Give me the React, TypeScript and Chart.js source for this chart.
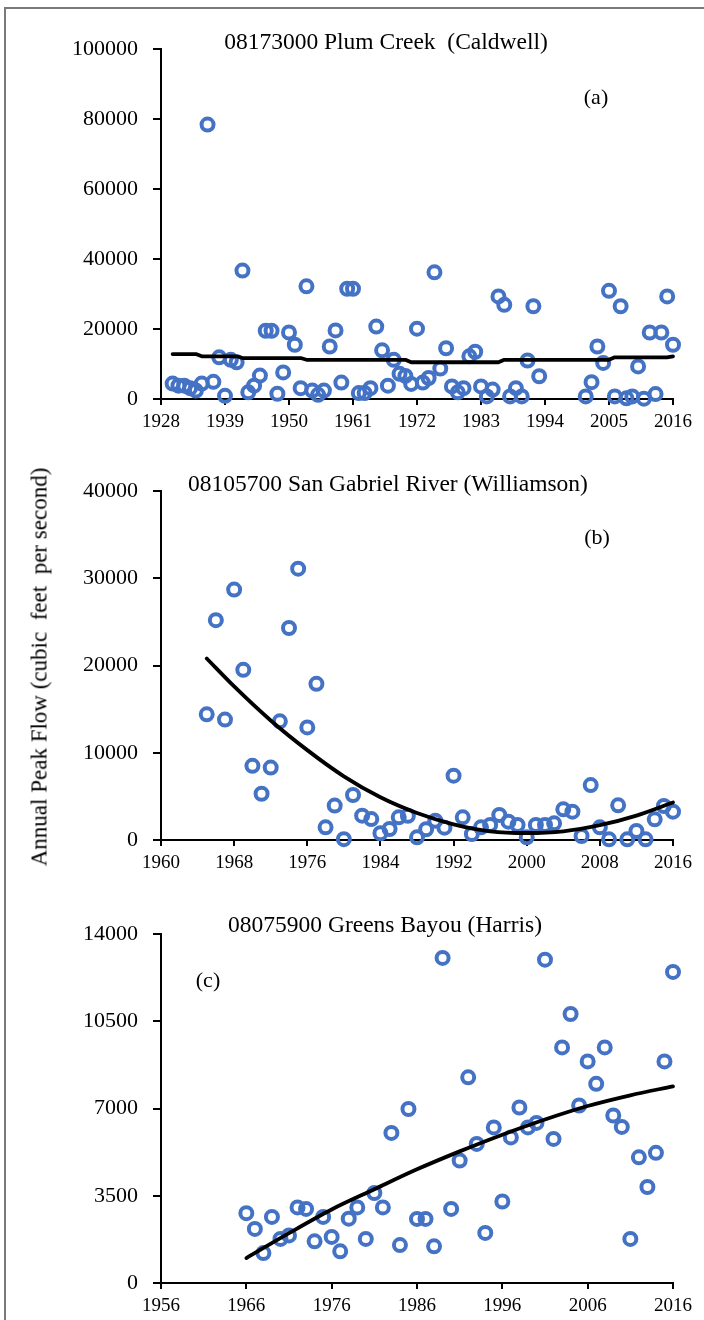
import React, { useEffect, useRef } from "react";
import { Chart, registerables } from "chart.js";

Chart.register(...registerables);

const FONT = '"Liberation Serif", "Times New Roman", serif';

// ---------- (a) 08173000 Plum Creek (Caldwell) ----------
const yearsA = [
  1930, 1931, 1932, 1933, 1934, 1935, 1936, 1937, 1938, 1939, 1940, 1941, 1942, 1943, 1944, 1945,
  1946, 1947, 1948, 1949, 1950, 1951, 1952, 1953, 1954, 1955, 1956, 1957, 1958, 1959, 1960, 1961,
  1962, 1963, 1964, 1965, 1966, 1967, 1968, 1969, 1970, 1971, 1972, 1973, 1974, 1975, 1976, 1977,
  1978, 1979, 1980, 1981, 1982, 1983, 1984, 1985, 1986, 1987, 1988, 1989, 1990, 1991, 1992, 1993,
  2001, 2002, 2003, 2004, 2005, 2006, 2007, 2008, 2009, 2010, 2011, 2012, 2013, 2014, 2015, 2016,
];
const peaksA = [
  4400, 3800, 3800, 3100, 2400, 4400, 78400, 4900, 11900, 900, 11200, 10500, 36700, 1900, 3800, 6700,
  19500, 19500, 1500, 7600, 19000, 15500, 3100, 32200, 2400, 1200, 2400, 15000, 19600, 4700, 31500, 31500,
  1700, 1700, 3100, 20700, 13900, 3800, 11200, 7200, 6600, 4300, 20100, 4700, 6000, 36200, 8700, 14500,
  3600, 1900, 3100, 12200, 13500, 3600, 750, 2700, 29300, 26900, 750, 3100, 750, 11000, 26500, 6500,
  750, 4800, 15000, 10300, 30900, 750, 26500, 200, 750, 9300, 100, 19000, 1400, 19000, 29300, 15500,
];
const trendYearsA = [1930, 1934, 1935, 1941, 1942, 1952, 1953, 1970, 1971, 1986, 1987, 2005, 2006, 2015, 2016];
const trendA = [12850, 12850, 12200, 12200, 11700, 11700, 11200, 11200, 10500, 10500, 11200, 11200, 11900, 11900, 12200];
const xTicksA = { min: 1928, max: 2016, step: 11 };
const yTicksA = { min: 0, max: 100000, step: 20000 };

// ---------- (b) 08105700 San Gabriel River (Williamson) ----------
const yearsB = [
  1965, 1966, 1967, 1968, 1969, 1970, 1971, 1972, 1973, 1974, 1975, 1976, 1977, 1978, 1979, 1980,
  1981, 1982, 1983, 1984, 1985, 1986, 1987, 1988, 1989, 1990, 1991, 1992, 1993, 1994, 1995, 1996,
  1997, 1998, 1999, 2000, 2001, 2002, 2003, 2004, 2005, 2006, 2007, 2008, 2009, 2010, 2011, 2012,
  2013, 2014, 2015, 2016,
];
const peaksB = [
  14400, 25200, 13800, 28700, 19500, 8500, 5300, 8300, 13600, 24300, 31100, 12900, 17900, 1450, 3940, 100,
  5160, 2790, 2400, 770, 1260, 2600, 2770, 310, 1230, 2210, 1410, 7370, 2600, 690, 1450, 1720,
  2870, 2100, 1720, 310, 1720, 1720, 1910, 3520, 3250, 460, 6300, 1450, 80, 3970, 80, 1030,
  80, 2370, 3900, 3250,
];
const trendYearsB = [1965, 1968, 1972, 1976, 1980, 1984, 1988, 1992, 1996, 2000, 2004, 2008, 2012, 2016];
const trendB = [20800, 17600, 13700, 10300, 7300, 4900, 3100, 1800, 1000, 800, 1000, 1700, 2800, 4300];
const xTicksB = { min: 1960, max: 2016, step: 8 };
const yTicksB = { min: 0, max: 40000, step: 10000 };

// ---------- (c) 08075900 Greens Bayou (Harris) ----------
const yearsC = [
  1966, 1967, 1968, 1969, 1970, 1971, 1972, 1973, 1974, 1975, 1976, 1977, 1978, 1979, 1980, 1981,
  1982, 1983, 1984, 1985, 1986, 1987, 1988, 1989, 1990, 1991, 1992, 1993, 1994, 1995, 1996, 1997,
  1998, 1999, 2000, 2001, 2002, 2003, 2004, 2005, 2006, 2007, 2008, 2009, 2010, 2011, 2012, 2013,
  2014, 2015, 2016,
];
const peaksC = [
  2800, 2170, 1200, 2650, 1770, 1910, 3030, 2970, 1670, 2650, 1850, 1270, 2580, 3030, 1770, 3610,
  3030, 6020, 1520, 6980, 2570, 2570, 1470, 13040, 2970, 4910, 8250, 5580, 2010, 6240, 3270, 5840,
  7040, 6240, 6420, 12970, 5780, 9450, 10790, 7120, 8890, 7990, 9450, 6720, 6260, 1770, 5040, 3850,
  5220, 8890, 12480,
];
const trendYearsC = [1966, 1971, 1976, 1981, 1986, 1991, 1996, 2001, 2006, 2011, 2016];
const trendC = [1000, 2000, 2950, 3760, 4560, 5280, 5950, 6560, 7100, 7530, 7890];
const xTicksC = { min: 1956, max: 2016, step: 10 };
const yTicksC = { min: 0, max: 14000, step: 3500 };

const titles = [
  "08173000 Plum Creek  (Caldwell)",
  "08105700 San Gabriel River (Williamson)",
  "08075900 Greens Bayou (Harris)",
];
const panelLabels = ["(a)", "(b)", "(c)"];
const yAxisTitle = "Annual Peak Flow (cubic  feet  per second)";

type PanelProps = {
  top: number;
  height: number;
  padTop: number;
  padBottom: number;
  years: number[];
  peaks: number[];
  trendYears: number[];
  trend: number[];
  smooth: boolean;
  xt: { min: number; max: number; step: number };
  yt: { min: number; max: number; step: number };
  title: string;
  titleX: number;
  titleY: number;
  label: string;
  labelX: number;
  labelY: number;
};

function Panel(p: PanelProps) {
  const ref = useRef<HTMLCanvasElement | null>(null);
  useEffect(() => {
    if (!ref.current) return;
    const annot = {
      id: "annot",
      afterDraw(chart: any) {
        const ctx = chart.ctx;
        ctx.save();
        ctx.fillStyle = "#000";
        ctx.font = `23.5px ${FONT}`;
        ctx.textAlign = "center";
        ctx.textBaseline = "alphabetic";
        ctx.fillText(p.title, p.titleX, p.titleY);
        ctx.font = `22px ${FONT}`;
        ctx.textBaseline = "middle";
        ctx.fillText(p.label, p.labelX, p.labelY);
        ctx.restore();
      },
    };
    const chart = new Chart(ref.current, {
      type: "scatter",
      data: {
        datasets: [
          {
            data: p.trendYears.map((x, i) => ({ x, y: p.trend[i] })),
            showLine: true,
            borderColor: "#000",
            borderWidth: 3.8,
            borderCapStyle: "round",
            borderJoinStyle: "round",
            pointRadius: 0,
            pointHoverRadius: 0,
            fill: false,
            cubicInterpolationMode: p.smooth ? "monotone" : "default",
            tension: 0,
            clip: false,
            order: 0,
          } as any,
          {
            data: p.years.map((x, i) => ({ x, y: p.peaks[i] })),
            pointStyle: "circle",
            pointRadius: 6,
            pointBorderWidth: 4,
            pointBorderColor: "#4472C4",
            pointBackgroundColor: "rgba(0,0,0,0)",
            clip: false,
            order: 1,
          } as any,
        ],
      },
      options: {
        animation: false,
        responsive: false,
        maintainAspectRatio: false,
        layout: { padding: { left: 0, right: 31, top: p.padTop, bottom: p.padBottom } },
        plugins: { legend: { display: false }, tooltip: { enabled: false }, title: { display: false } },
        events: [],
        scales: {
          x: {
            type: "linear",
            min: p.xt.min,
            max: p.xt.max,
            ticks: {
              stepSize: p.xt.step,
              autoSkip: false,
              maxRotation: 0,
              color: "#000",
              padding: 6,
              font: { family: FONT, size: 19 },
              callback: (v: any) => String(v),
            },
            grid: { display: true, drawOnChartArea: false, drawTicks: true, tickLength: 6, color: "#000", lineWidth: 2 },
            border: { display: true, color: "#000", width: 2 },
            afterFit: (s: any) => {
              s.height = 30;
            },
          },
          y: {
            type: "linear",
            min: p.yt.min,
            max: p.yt.max,
            ticks: {
              stepSize: p.yt.step,
              autoSkip: false,
              color: "#000",
              padding: 15,
              font: { family: FONT, size: 22 },
              callback: (v: any) => String(v),
            },
            grid: { display: true, drawOnChartArea: false, drawTicks: true, tickLength: 8, color: "#000", lineWidth: 2 },
            border: { display: true, color: "#000", width: 2 },
            afterFit: (s: any) => {
              s.width = 161;
            },
          },
        },
      } as any,
      plugins: [annot],
    });
    return () => chart.destroy();
  }, []);
  return (
    <canvas
      ref={ref}
      width={704}
      height={p.height}
      style={{ position: "absolute", left: 0, top: p.top, width: 704, height: p.height, display: "block" }}
    />
  );
}

export default function App() {
  return (
    <div
      style={{
        position: "absolute",
        left: 0,
        top: 0,
        width: 704,
        height: 1320,
        overflow: "hidden",
        background: "#fff",
      }}
    >
      <div
        style={{
          position: "absolute",
          left: 4,
          top: 7,
          width: 800,
          height: 1400,
          borderLeft: "2px solid #7a7a7a",
          borderTop: "2px solid #7a7a7a",
        }}
      />
      <Panel
        top={0}
        height={442}
        padTop={49}
        padBottom={13}
        years={yearsA}
        peaks={peaksA}
        trendYears={trendYearsA}
        trend={trendA}
        smooth={false}
        xt={xTicksA}
        yt={yTicksA}
        title={titles[0]}
        titleX={386}
        titleY={49}
        label={panelLabels[0]}
        labelX={596}
        labelY={98}
      />
      <Panel
        top={442}
        height={442}
        padTop={49}
        padBottom={14}
        years={yearsB}
        peaks={peaksB}
        trendYears={trendYearsB}
        trend={trendB}
        smooth={true}
        xt={xTicksB}
        yt={yTicksB}
        title={titles[1]}
        titleX={388}
        titleY={49}
        label={panelLabels[1]}
        labelX={597}
        labelY={96}
      />
      <Panel
        top={884}
        height={436}
        padTop={50}
        padBottom={7}
        years={yearsC}
        peaks={peaksC}
        trendYears={trendYearsC}
        trend={trendC}
        smooth={true}
        xt={xTicksC}
        yt={yTicksC}
        title={titles[2]}
        titleX={385}
        titleY={48}
        label={panelLabels[2]}
        labelX={208}
        labelY={97}
      />
      <div
        style={{
          position: "absolute",
          left: 39,
          top: 667,
          transform: "translate(-50%, -50%) rotate(-90deg)",
          whiteSpace: "pre",
          fontFamily: FONT,
          fontSize: 23,
          color: "#000",
          lineHeight: 1,
        }}
      >
        {yAxisTitle}
      </div>
    </div>
  );
}
